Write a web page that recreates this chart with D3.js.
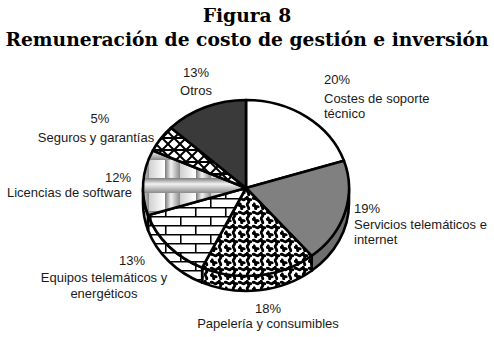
<!DOCTYPE html>
<html>
<head>
<meta charset="utf-8">
<script src="https://cdn.jsdelivr.net/npm/d3@7"></script>
<style>
  body { margin: 0; background: #fff; }
  .lbl { font-family: "Liberation Sans", Arial, sans-serif; font-size: 13px; fill: #1a1a1a; }
  .title { font-family: "DejaVu Serif", "Liberation Serif", serif; font-weight: bold; font-size: 20px; fill: #000; }
</style>
</head>
<body>
<div class="chart"></div>
<script>
// Data
const categories = ["Costes de soporte técnico", "Servicios telemáticos e internet", "Papelería y consumibles",
  "Equipos telemáticos y energéticos", "Licencias de software", "Seguros y garantías", "Otros"];
const values = [20, 19, 18, 13, 12, 5, 13];
const labelLines = [
  ["Costes de soporte", "técnico"],
  ["Servicios telemáticos e", "internet"],
  ["Papelería y consumibles"],
  ["Equipos telemáticos y", "energéticos"],
  ["Licencias de software"],
  ["Seguros y garantías"],
  ["Otros"]
];
const titleLines = ["Figura 8", "Remuneración de costo de gestión e inversión"];

// Layout
const W = 494, H = 337;
const PIE = { CX: 246, CY: 188, RX: 103, RY: 88, DEPTH: 15 };
const fills = ["#ffffff", "#808080", "url(#pPuzzle)", "url(#pBrick)", "url(#pCyl)", "url(#pLattice)", "#3a3a3a"];
const sideFills = ["#ffffff", "#6e6e6e", "url(#pPuzzle)", "url(#pBrick)", "url(#pCyl)", "url(#pLattice)", "#2e2e2e"];
// label placement
const labelPos = [
  { x: 324, anchor: "start", py: 84, ty: 103, step: 15 },
  { x: 354, anchor: "start", py: 213, ty: 229, step: 15 },
  { x: 268, anchor: "middle", py: 313, ty: 328, step: 15 },
  { x: 104, anchor: "middle", py: 265, ty: 282, step: 16, px: 132 },
  { x: 132, anchor: "end", py: 182, ty: 197, step: 15, px: 118 },
  { x: 96, anchor: "middle", py: 123, ty: 142, step: 15, px: 100 },
  { x: 196, anchor: "middle", py: 77, ty: 95, step: 15 }
];

const svg = d3.select(".chart").append("svg").attr("width", W).attr("height", H);

// Patterns
const defs = svg.append("defs");

const puzzle = defs.append("pattern").attr("id", "pPuzzle").attr("patternUnits", "userSpaceOnUse")
  .attr("width", 14).attr("height", 14);
puzzle.append("rect").attr("width", 14).attr("height", 14).attr("fill", "#fff");
puzzle.append("path")
  .attr("d", "M0,3 C3,0 4,6 7,3 C10,0 11,6 14,3 M3,7 C0,10 6,11 3,14 M10,0 C7,3 13,4 10,7 C7,10 13,11 10,14 M0,10 C3,7 4,13 7,10")
  .attr("fill", "none").attr("stroke", "#000").attr("stroke-width", 2.8);

const brick = defs.append("pattern").attr("id", "pBrick").attr("patternUnits", "userSpaceOnUse")
  .attr("width", 30).attr("height", 18);
brick.append("rect").attr("width", 30).attr("height", 18).attr("fill", "#fff");
brick.append("path")
  .attr("d", "M0,0.75H30 M0,9.75H30 M0.75,0V9 M15.75,9V18")
  .attr("stroke", "#000").attr("stroke-width", 1.6);

// shaded bars for the "software" fill
const gv = defs.append("linearGradient").attr("id", "gV").attr("x1", 0).attr("x2", 1).attr("y1", 0).attr("y2", 0);
gv.append("stop").attr("offset", 0).attr("stop-color", "#7a7a7a");
gv.append("stop").attr("offset", 0.4).attr("stop-color", "#f2f2f2");
gv.append("stop").attr("offset", 1).attr("stop-color", "#8a8a8a");
const gh = defs.append("linearGradient").attr("id", "gH").attr("x1", 0).attr("x2", 0).attr("y1", 0).attr("y2", 1);
gh.append("stop").attr("offset", 0).attr("stop-color", "#7a7a7a");
gh.append("stop").attr("offset", 0.4).attr("stop-color", "#f2f2f2");
gh.append("stop").attr("offset", 1).attr("stop-color", "#8a8a8a");
const gc = defs.append("linearGradient").attr("id", "gC").attr("x1", 0).attr("x2", 1).attr("y1", 0).attr("y2", 0);
gc.append("stop").attr("offset", 0).attr("stop-color", "#d0d0d0");
gc.append("stop").attr("offset", 0.5).attr("stop-color", "#ffffff");
gc.append("stop").attr("offset", 1).attr("stop-color", "#d8d8d8");

const cyl = defs.append("pattern").attr("id", "pCyl").attr("patternUnits", "userSpaceOnUse")
  .attr("width", 31).attr("height", 33).attr("x", 149).attr("y", 160);
cyl.append("rect").attr("width", 31).attr("height", 33).attr("fill", "url(#gC)");
cyl.append("rect").attr("x", 16).attr("width", 15).attr("height", 33).attr("fill", "url(#gV)");
cyl.append("rect").attr("y", 18).attr("width", 31).attr("height", 15).attr("fill", "url(#gH)");

const lattice = defs.append("pattern").attr("id", "pLattice").attr("patternUnits", "userSpaceOnUse")
  .attr("width", 12).attr("height", 12);
lattice.append("rect").attr("width", 12).attr("height", 12).attr("fill", "#fff");
lattice.append("path")
  .attr("d", "M0,0L12,12 M12,0L0,12 M0,6H12")
  .attr("stroke", "#000").attr("stroke-width", 2);

// Pie geometry (angles clockwise from 12 o'clock)
const pie = d3.pie().sort(null).value(d => d)(values);
const pt = (a, dy = 0) => [PIE.CX + PIE.RX * Math.sin(a), PIE.CY - PIE.RY * Math.cos(a) + dy];

function topPath(d) {
  const p0 = pt(d.startAngle), p1 = pt(d.endAngle);
  const large = d.endAngle - d.startAngle > Math.PI ? 1 : 0;
  return `M${PIE.CX},${PIE.CY}L${p0}A${PIE.RX},${PIE.RY} 0 ${large} 1 ${p1}Z`;
}

function sidePath(d) {
  const a0 = Math.max(d.startAngle, Math.PI / 2), a1 = Math.min(d.endAngle, 3 * Math.PI / 2);
  if (a1 <= a0) return null;
  const p0 = pt(a0), p1 = pt(a1), q0 = pt(a0, PIE.DEPTH), q1 = pt(a1, PIE.DEPTH);
  return `M${p0}A${PIE.RX},${PIE.RY} 0 0 1 ${p1}L${q1}A${PIE.RX},${PIE.RY} 0 0 0 ${q0}Z`;
}

const g = svg.append("g");

g.selectAll("path.side")
  .data(pie.filter(d => sidePath(d)))
  .join("path")
  .attr("class", "side")
  .attr("d", sidePath)
  .attr("fill", d => sideFills[d.index])
  .attr("stroke", "#000")
  .attr("stroke-width", 2.6)
  .attr("stroke-linejoin", "round");

g.selectAll("path.top")
  .data(pie)
  .join("path")
  .attr("class", "top")
  .attr("d", topPath)
  .attr("fill", d => fills[d.index])
  .attr("stroke", "#000")
  .attr("stroke-width", 2.6)
  .attr("stroke-linejoin", "round");

// Labels
const fmt = d3.format(".0%");
const total = d3.sum(values);
const labels = svg.append("g");
pie.forEach(d => {
  const lp = labelPos[d.index];
  labels.append("text")
    .attr("class", "lbl")
    .attr("x", lp.px !== undefined ? lp.px : lp.x)
    .attr("y", lp.py)
    .attr("text-anchor", lp.px !== undefined ? "middle" : lp.anchor)
    .text(fmt(d.data / total));
  labelLines[d.index].forEach((line, i) => {
    labels.append("text")
      .attr("class", "lbl")
      .attr("x", lp.x)
      .attr("y", lp.ty + i * lp.step)
      .attr("text-anchor", lp.anchor)
      .text(line);
  });
});

// Title
const titles = svg.selectAll("text.title")
  .data(titleLines)
  .join("text")
  .attr("class", "title")
  .attr("x", 247)
  .attr("y", (d, i) => 22 + i * 24)
  .attr("text-anchor", "middle")
  .text(d => d);
// fit the long line to the printed width
const longW = titles.nodes()[1].getComputedTextLength();
titles.style("font-size", (20 * 484 / longW).toFixed(1) + "px");
</script>
</body>
</html>
